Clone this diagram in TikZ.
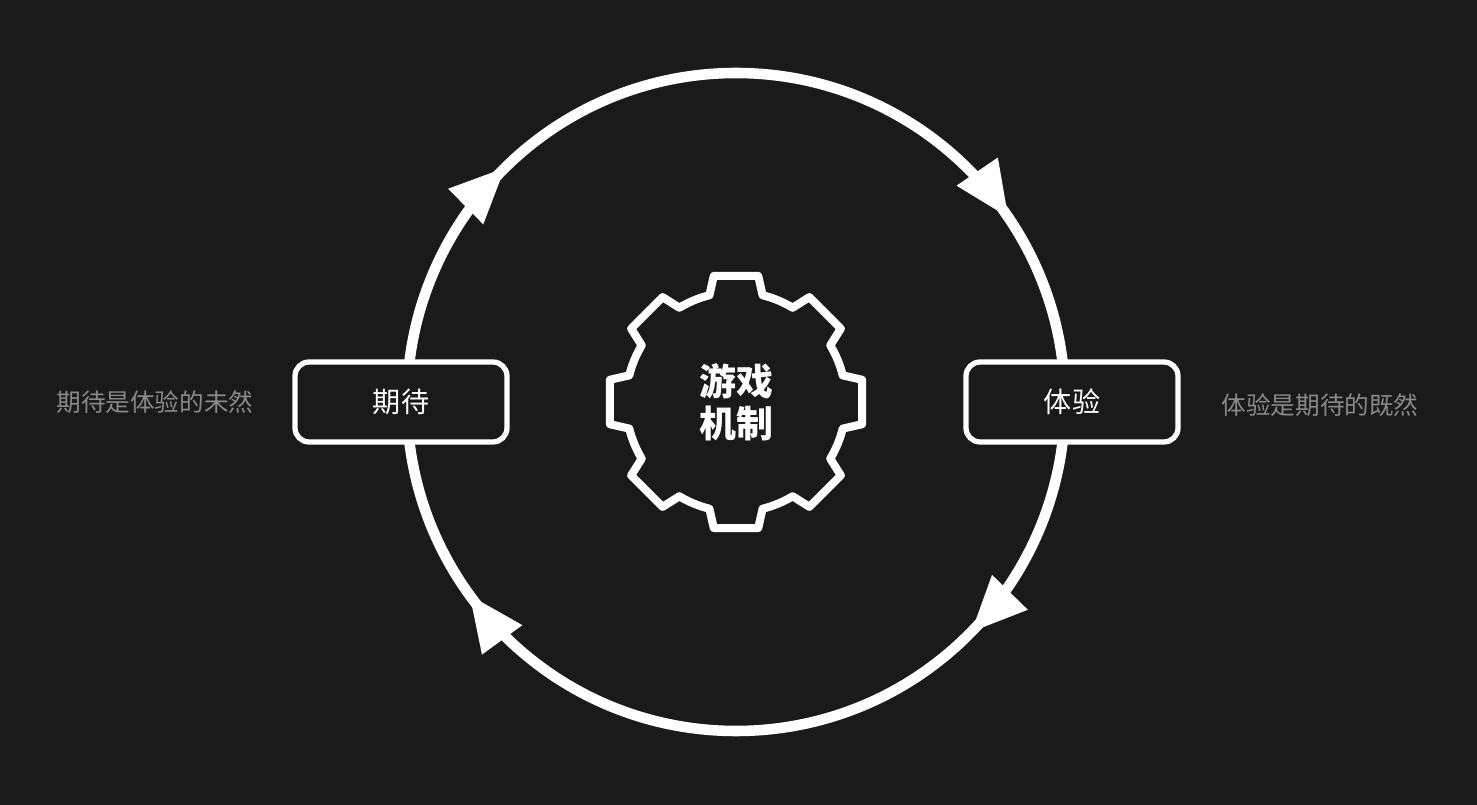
\documentclass[tikz,border=0pt]{standalone}
\usepackage{fontspec}
\setmainfont{Noto Sans CJK SC}
\usetikzlibrary{arrows.meta, decorations.markings, positioning}
\definecolor{bgdark}{HTML}{1A1A1A}
\definecolor{sidegray}{HTML}{8A8A8A}
\tikzset{
  stagebox/.style={draw=white, line width=1.5pt, fill=bgdark, rounded corners=4pt,
    minimum width=2.12cm, minimum height=0.8cm, text=white, font=\fontsize{8}{10}\selectfont},
  sidetext/.style={text=sidegray, font=\fontsize{7}{9}\selectfont},
  loopline/.style={draw=white, line width=3pt},
  looptip/.style={white, line width=0pt}
}
\begin{document}
\begin{tikzpicture}
  \fill[bgdark] (0,0) rectangle (14.77,8.05);
  \useasboundingbox (0,0) rectangle (14.77,8.05);

  \coordinate (C) at (7.36,4.03);

  % cycle with clockwise arrows
  \draw[loopline, postaction={decorate}, decoration={markings,
      mark=at position 0.123 with {\arrow[looptip]{Triangle[length=0.55cm, width=0.5cm]}},
      mark=at position 0.400 with {\arrow[looptip]{Triangle[length=0.55cm, width=0.5cm]}},
      mark=at position 0.626 with {\arrow[looptip]{Triangle[length=0.55cm, width=0.5cm]}},
      mark=at position 0.905 with {\arrow[looptip]{Triangle[length=0.55cm, width=0.5cm]}}}]
    (C) ++(0:3.29) arc[start angle=360, end angle=0, radius=3.29];

  % gear
  \draw[white, line width=2.3pt, line join=round, shift={(C)}]
    (-14:1.1) \foreach \a in {0,45,...,315}{
      -- (\a-14:1.1) -- (\a-10:1.28) -- (\a+10:1.28) -- (\a+14:1.1)
      arc[start angle=\a+14, end angle=\a+31, radius=1.1]} -- cycle;
  \node[text=white, align=center, font=\fontsize{10.5}{12}\selectfont\bfseries] (mech) at (C) {游戏\\机制};

  \node[stagebox] (expect) at (4.01,4.03) {期待};
  \node[stagebox] (exper) at (10.72,4.03) {体验};
  \node[sidetext] (expectnote) at (1.55,4.03) {期待是体验的未然};
  \node[sidetext] (expernote) at (13.2,4.0) {体验是期待的既然};
\end{tikzpicture}
\end{document}
